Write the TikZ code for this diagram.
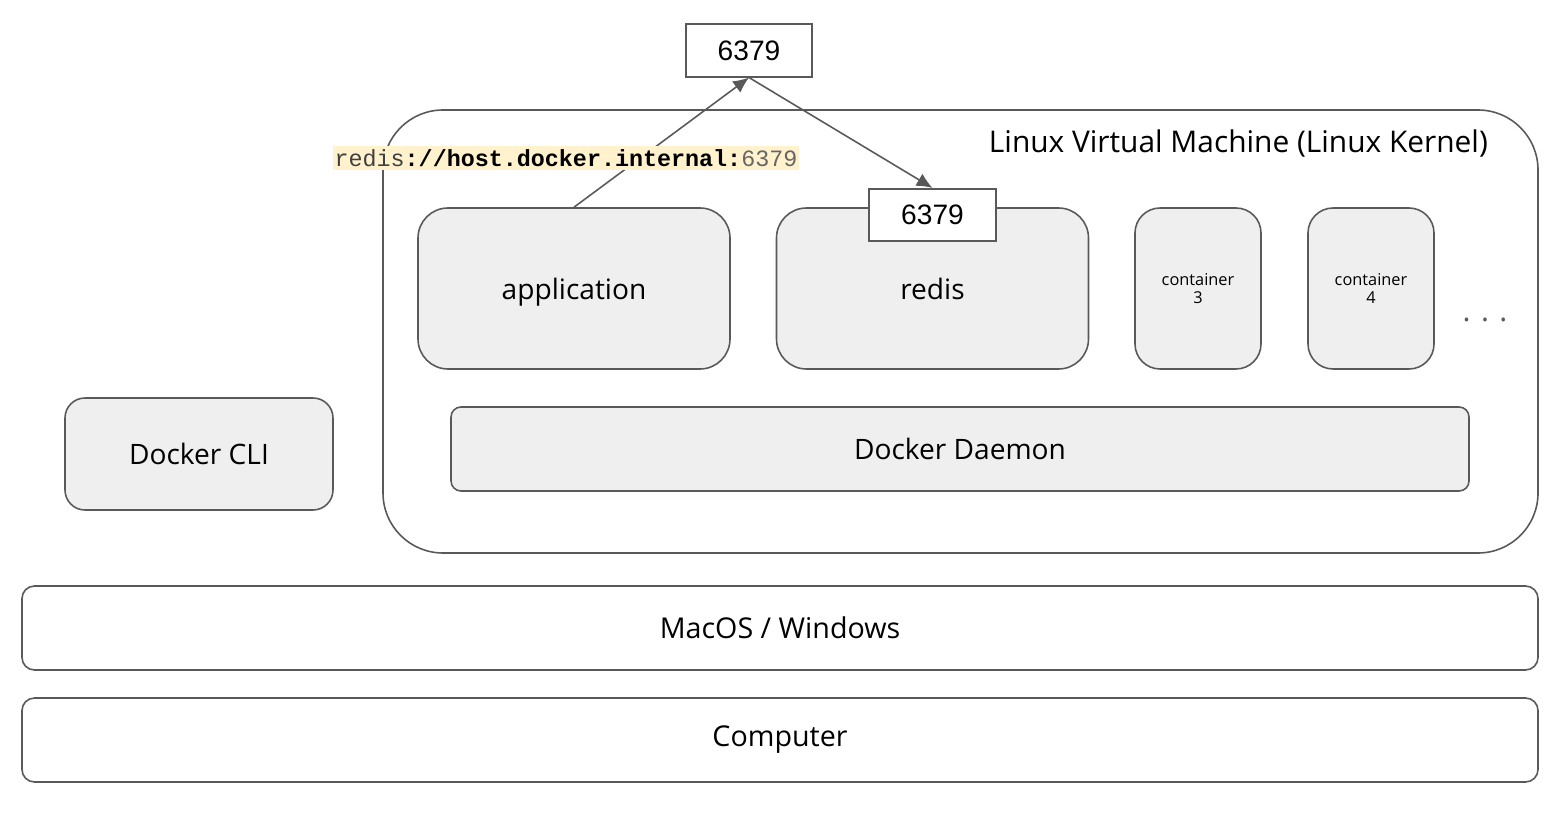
\documentclass[tikz,border=0pt]{standalone}
\usepackage{fontspec}
\setmainfont{Open Sans}
\newfontfamily\portfont{Liberation Sans}
\newfontfamily\codefont{Liberation Mono}
\usetikzlibrary{arrows.meta}
\definecolor{edge}{HTML}{595959}
\definecolor{boxfill}{HTML}{EFEFEF}
\definecolor{notefill}{HTML}{FFF2CC}
\tikzset{
	ctr/.style={draw=edge, line width=0.9pt, fill=boxfill, rounded corners=0.6cm, text depth=0pt, font=\fontsize{16}{19}\selectfont},
	lay/.style={draw=edge, line width=0.9pt, fill=white, rounded corners=0.25cm, minimum width=30.32cm, minimum height=1.68cm, font=\fontsize{16.3}{19}\selectfont},
	port/.style={draw=edge, line width=0.9pt, fill=white, minimum width=2.53cm, minimum height=1.05cm, font=\portfont\fontsize{16}{19}\selectfont},
	arr/.style={draw=edge, line width=0.9pt, -{Latex[length=9pt,width=8pt]}},
}

\begin{document}
\begin{tikzpicture}
	\useasboundingbox (0,0) rectangle (31.18,-16.32);

	\node[draw=edge, line width=0.9pt, rounded corners=1.2cm, minimum width=23.1cm, minimum height=8.86cm] (vm) at (19.21,-6.63) {};
	\node[anchor=east, font=\fontsize{17}{20}\selectfont] (vmlabel) at (29.88,-2.88) {Linux Virtual Machine (Linux Kernel)};

	\node[ctr, minimum width=6.24cm, minimum height=3.22cm] (app) at (11.48,-5.77) {application};
	\node[ctr, minimum width=6.24cm, minimum height=3.22cm] (redis) at (18.65,-5.77) {redis};
	\node[ctr, rounded corners=0.5cm, minimum width=2.52cm, minimum height=3.22cm, font=\fontsize{9.3}{10.6}\selectfont, align=center] (c3) at (23.96,-5.77) {container\\3};
	\node[ctr, rounded corners=0.5cm, minimum width=2.52cm, minimum height=3.22cm, font=\fontsize{9.3}{10.6}\selectfont, align=center] (c4) at (27.42,-5.77) {container\\4};
	\node[font=\fontsize{17}{20}\selectfont, text=edge] (dots) at (29.7,-6.4) {. . .};

	\node[ctr, rounded corners=0.2cm, minimum width=20.36cm, minimum height=1.68cm] (daemon) at (19.2,-8.98) {Docker Daemon};
	\node[ctr, rounded corners=0.4cm, minimum width=5.36cm, minimum height=2.24cm] (cli) at (3.98,-9.08) {Docker CLI};

	\node[lay] (os) at (15.6,-12.56) {MacOS / Windows};
	\node[lay] (pc) at (15.6,-14.8) {Computer};

	\node[port] (hostport) at (14.98,-1.01) {6379};
	\node[port] (redisport) at (18.65,-4.3) {6379};

	\draw[arr] (app.north) -- (hostport.south);
	\draw[arr] (hostport.south) -- (redisport.north);

	\node[fill=notefill, inner xsep=1pt, inner ysep=2pt, font=\codefont\fontsize{13.3}{15}\selectfont] (url) at (11.32,-3.16)
		{\textcolor{black!75}{redis}\textbf{://host.docker.internal:}\textcolor{black!60}{6379}};
\end{tikzpicture}
\end{document}
